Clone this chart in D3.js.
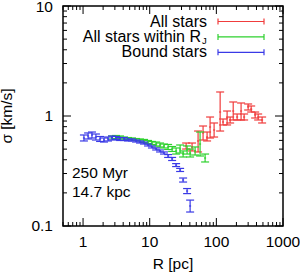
<!DOCTYPE html>
<html>
<head>
<meta charset="utf-8">
<script src="https://cdn.jsdelivr.net/npm/d3@7"></script>
<style>
  body { margin: 0; background: #fff; }
  svg text { font-family: "Liberation Sans", Arial, sans-serif; }
</style>
</head>
<body>
<div id="chart"></div>
<script>
//Datos: radio R [pc], sigma [km/s] y límites de la barra de error
const allR = [35.2, 43.2, 53.2, 63.2, 72.6, 80.5, 92.5, 114, 126, 145, 161, 179, 205, 235, 261, 300, 333, 382, 424, 486];
const allSigma = [0.534, 0.523, 0.593, 0.701, 0.644, 0.794, 0.746, 1.087, 0.882, 0.959, 0.920, 1.110, 0.979, 1.110, 0.979, 1.207, 1.158, 1.021, 0.979, 0.920];
const allLo = [0.501, 0.481, 0.471, 0.605, 0.593, 0.631, 0.644, 0.730, 0.829, 0.829, 0.864, 0.920, 0.920, 0.920, 0.920, 1.134, 1.087, 0.959, 0.920, 0.864];
const allHi = [0.568, 0.568, 0.730, 0.811, 0.715, 0.979, 0.864, 1.653, 0.939, 1.110, 0.979, 1.341, 1.043, 1.313, 1.043, 1.286, 1.233, 1.087, 1.043, 0.979];

const rjR = [2.72, 3.12, 3.59, 4.12, 4.73, 5.43, 6.24, 7.16, 8.22, 9.44, 10.8, 12.5, 14.3, 16.4, 18.9, 21.7, 24.9, 28.6, 31.7, 36.4, 40.4, 48.0, 57.0, 67.8];
const rjSigma = [0.637, 0.644, 0.637, 0.631, 0.624, 0.618, 0.612, 0.605, 0.593, 0.580, 0.568, 0.556, 0.545, 0.534, 0.523, 0.501, 0.481, 0.501, 0.451, 0.491, 0.461, 0.481, 0.556, 0.415];
const rjLo = [0.618, 0.624, 0.618, 0.618, 0.612, 0.605, 0.599, 0.593, 0.574, 0.562, 0.551, 0.534, 0.523, 0.512, 0.496, 0.476, 0.451, 0.461, 0.424, 0.451, 0.424, 0.442, 0.433, 0.382];
const rjHi = [0.658, 0.665, 0.658, 0.644, 0.637, 0.631, 0.624, 0.618, 0.612, 0.599, 0.587, 0.580, 0.568, 0.556, 0.551, 0.528, 0.512, 0.545, 0.481, 0.534, 0.501, 0.523, 0.715, 0.451];

const boundR = [1.03, 1.19, 1.36, 1.56, 1.80, 2.06, 2.37, 2.72, 3.12, 3.59, 4.12, 4.73, 5.43, 6.24, 7.16, 8.22, 9.44, 10.8, 12.5, 14.3, 16.4, 18.9, 21.7, 24.9, 28.6, 31.7, 36.4, 40.4];
const boundSigma = [0.631, 0.658, 0.672, 0.644, 0.618, 0.605, 0.618, 0.631, 0.631, 0.618, 0.618, 0.605, 0.605, 0.593, 0.580, 0.568, 0.545, 0.523, 0.501, 0.481, 0.461, 0.433, 0.407, 0.358, 0.323, 0.262, 0.208, 0.152];
const boundLo = [0.593, 0.618, 0.631, 0.605, 0.587, 0.580, 0.593, 0.605, 0.612, 0.599, 0.599, 0.593, 0.593, 0.580, 0.568, 0.556, 0.534, 0.512, 0.491, 0.471, 0.451, 0.420, 0.394, 0.347, 0.313, 0.251, 0.197, 0.134];
const boundHi = [0.672, 0.701, 0.715, 0.686, 0.651, 0.631, 0.644, 0.658, 0.651, 0.637, 0.637, 0.618, 0.618, 0.605, 0.593, 0.580, 0.556, 0.534, 0.512, 0.491, 0.471, 0.446, 0.420, 0.369, 0.334, 0.273, 0.219, 0.172];

const xTicks = [1, 10, 100, 1000];
const yTicks = [0.1, 1, 10];
const yTickLabels = ['0.1', '1', '10'];

//Colores
const COLOR_ALL = '#f03c3c',
COLOR_RJ = '#2ed12e',
COLOR_BOUND = '#3a3ae6';

const series = [
    { name: 'All stars', sub: null, color: COLOR_ALL, R: allR, s: allSigma, lo: allLo, hi: allHi },
    { name: 'All stars within R', sub: 'J', color: COLOR_RJ, R: rjR, s: rjSigma, lo: rjLo, hi: rjHi },
    { name: 'Bound stars', sub: null, color: COLOR_BOUND, R: boundR, s: boundSigma, lo: boundLo, hi: boundHi }
];

let W = 300, H = 275;
let margin = {top: 6, right: 17, bottom: 49, left: 63},
    width = W - margin.left - margin.right,
    height = H - margin.top - margin.bottom;

let svg = d3.select('#chart')
    .append('svg')
        .attr('width', W)
        .attr('height', H)
    .append('g')
        .attr('transform', 'translate(' + margin.left + ',' + margin.top + ')');

let x = d3.scaleLog().domain([0.5, 1000]).range([0, width]);
let y = d3.scaleLog().domain([0.1, 10]).range([height, 0]);

//Ticks menores
let xMinor = [], yMinor = [];
[0.1, 1, 10, 100].forEach(function(d) {
    for (let k = 2; k <= 9; k++) {
        let v = d * k;
        if (v >= 0.5 && v < 1000) xMinor.push(v);
    }
});
[0.1, 1].forEach(function(d) {
    for (let k = 2; k <= 9; k++) yMinor.push(d * k);
});

let ticks = svg.append('g').attr('stroke', '#000').attr('stroke-width', 1);
function tickLines(vals, len, axis) {
    vals.forEach(function(v) {
        if (axis == 'x') {
            let px = x(v);
            ticks.append('line').attr('x1', px).attr('x2', px).attr('y1', height).attr('y2', height - len);
            ticks.append('line').attr('x1', px).attr('x2', px).attr('y1', 0).attr('y2', len);
        } else {
            let py = y(v);
            ticks.append('line').attr('x1', 0).attr('x2', len).attr('y1', py).attr('y2', py);
            ticks.append('line').attr('x1', width).attr('x2', width - len).attr('y1', py).attr('y2', py);
        }
    });
}
tickLines(xTicks, 8, 'x');
tickLines(xMinor, 4, 'x');
tickLines(yTicks, 8, 'y');
tickLines(yMinor, 4, 'y');

//Etiquetas de los ejes
svg.append('g').selectAll('text')
    .data(xTicks)
    .enter()
    .append('text')
    .attr('x', function(d) { return x(d); })
    .attr('y', height + 21)
    .attr('text-anchor', 'middle')
    .attr('font-size', 15.5)
    .text(function(d) { return d; });

svg.append('g').selectAll('text')
    .data(yTicks)
    .enter()
    .append('text')
    .attr('x', -10)
    .attr('y', function(d) { return Math.max(y(d) + 5, 6); })
    .attr('text-anchor', 'end')
    .attr('font-size', 15.5)
    .text(function(d, i) { return yTickLabels[i]; });

svg.append('text')
    .attr('x', width / 2)
    .attr('y', height + 43)
    .attr('text-anchor', 'middle')
    .attr('font-size', 15.5)
    .text('R [pc]');

svg.append('text')
    .attr('transform', 'translate(' + (-51) + ',' + (height / 2) + ') rotate(-90)')
    .attr('text-anchor', 'middle')
    .attr('font-size', 15.5)
    .text('σ [km/s]');

//Barras de error
let capW = 4;
series.forEach(function(s) {
    let g = svg.append('g')
        .attr('stroke', s.color)
        .attr('stroke-width', 1.2)
        .attr('fill', 'none');
    let rows = s.R.map(function(r, i) { return { r: r, s: s.s[i], lo: s.lo[i], hi: s.hi[i] }; });
    let pts = g.selectAll('g').data(rows).enter().append('g');
    pts.append('line')
        .attr('x1', function(d) { return x(d.r); })
        .attr('x2', function(d) { return x(d.r); })
        .attr('y1', function(d) { return y(d.lo); })
        .attr('y2', function(d) { return y(d.hi); });
    pts.append('line')
        .attr('x1', function(d) { return x(d.r) - capW; })
        .attr('x2', function(d) { return x(d.r) + capW; })
        .attr('y1', function(d) { return y(d.lo); })
        .attr('y2', function(d) { return y(d.lo); });
    pts.append('line')
        .attr('x1', function(d) { return x(d.r) - capW; })
        .attr('x2', function(d) { return x(d.r) + capW; })
        .attr('y1', function(d) { return y(d.hi); })
        .attr('y2', function(d) { return y(d.hi); });
    pts.append('line')
        .attr('x1', function(d) { return x(d.r) - 1; })
        .attr('x2', function(d) { return x(d.r) + 1; })
        .attr('y1', function(d) { return y(d.s); })
        .attr('y2', function(d) { return y(d.s); });
});

//Leyenda
let legend = svg.append('g');
series.forEach(function(s, i) {
    let ly = 15.5 + i * 15.4;
    let t = legend.append('text')
        .attr('x', s.sub ? 138 : 144)
        .attr('y', ly + 5)
        .attr('text-anchor', 'end')
        .attr('font-size', 16);
    t.append('tspan').text(s.name);
    if (s.sub) {
        legend.append('text')
            .attr('x', 139)
            .attr('y', ly + 7)
            .attr('font-size', 9.5)
            .text(s.sub);
    }
    let lg = legend.append('g').attr('stroke', s.color).attr('stroke-width', 1.2);
    lg.append('line').attr('x1', 155).attr('x2', 201).attr('y1', ly).attr('y2', ly);
    lg.append('line').attr('x1', 155).attr('x2', 155).attr('y1', ly - 3).attr('y2', ly + 3);
    lg.append('line').attr('x1', 201).attr('x2', 201).attr('y1', ly - 3).attr('y2', ly + 3);
});

//Texto interior
svg.append('text').attr('x', 9).attr('y', 172).attr('font-size', 15.5).text('250 Myr');
svg.append('text').attr('x', 9).attr('y', 191).attr('font-size', 15.5).text('14.7 kpc');

//Marco
svg.append('rect')
    .attr('width', width)
    .attr('height', height)
    .attr('fill', 'none')
    .attr('stroke', '#000')
    .attr('stroke-width', 1.5);
</script>
</body>
</html>
